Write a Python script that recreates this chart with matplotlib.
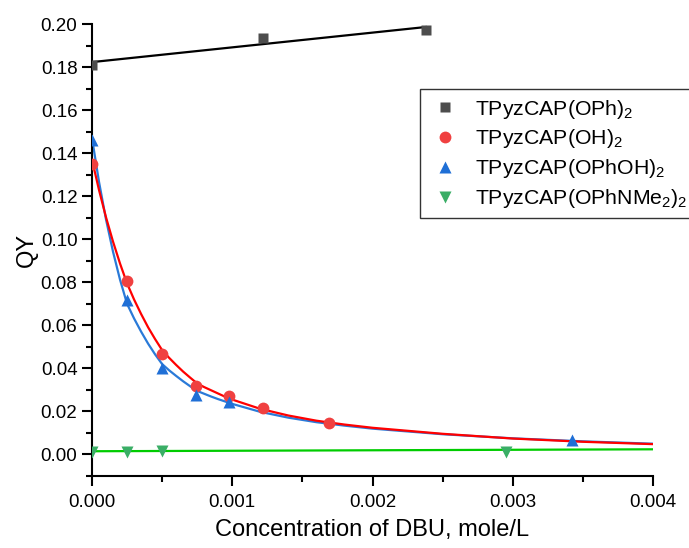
import numpy as np
import matplotlib
matplotlib.use('Agg')
import matplotlib.pyplot as plt
from matplotlib.ticker import MultipleLocator

plt.rcParams['font.family'] = ['Liberation Sans', 'DejaVu Sans']
plt.rcParams['mathtext.default'] = 'regular'

# measured points
x_oph = [0.0, 0.00122, 0.00238]
y_oph = [0.181, 0.1935, 0.197]

x_oh = [0.0, 0.00025, 0.0005, 0.00074, 0.00098, 0.00122, 0.00169]
y_oh = [0.135, 0.0805, 0.0465, 0.0316, 0.027, 0.0214, 0.0144]

x_ophoh = [0.0, 0.00025, 0.0005, 0.00074, 0.00098, 0.00342]
y_ophoh = [0.146, 0.0716, 0.040, 0.0274, 0.0242, 0.0065]

x_nme2 = [0.0, 0.00025, 0.0005, 0.00295]
y_nme2 = [0.0010, 0.0012, 0.0017, 0.0012]

# fit curves
fit_oph_x = [0.0, 0.00238]
fit_oph_y = [0.1823, 0.1986]

fit_x = [0.0, 0.00005, 0.0001, 0.00015, 0.0002, 0.00025, 0.0003, 0.00035, 0.0004,
         0.00045, 0.0005, 0.00055, 0.0006, 0.00065, 0.0007, 0.00075, 0.0008,
         0.00085, 0.0009, 0.00095, 0.001, 0.0012, 0.0014, 0.0016, 0.0018, 0.002,
         0.0025, 0.003, 0.0035, 0.004]
fit_oh_y = [0.137, 0.1229, 0.1102, 0.0989, 0.0887, 0.0795, 0.0720, 0.0653, 0.0591,
            0.0536, 0.0485, 0.0449, 0.0416, 0.0385, 0.0357, 0.0330, 0.0313,
            0.0298, 0.0283, 0.0268, 0.0255, 0.0212, 0.0181, 0.0157, 0.0139, 0.0124,
            0.0096, 0.0074, 0.0059, 0.0048]
fit_ophoh_y = [0.147, 0.1267, 0.1092, 0.0942, 0.0812, 0.0700, 0.0632, 0.0571, 0.0515,
               0.0465, 0.0420, 0.0391, 0.0365, 0.0340, 0.0317, 0.0295, 0.0282,
               0.0269, 0.0257, 0.0246, 0.0235, 0.0198, 0.0171, 0.0150, 0.0134, 0.0120,
               0.0094, 0.0075, 0.0061, 0.0050]

fit_nme2_x = [0.0, 0.004]
fit_nme2_y = [0.0015, 0.0024]

fig = plt.figure(figsize=(6.89, 5.48), dpi=100)
ax = fig.add_axes([0.1335, 0.1314, 0.8143, 0.8248])

ax.plot(fit_oph_x, fit_oph_y, color='black', lw=1.6, zorder=2)
ax.plot(fit_nme2_x, fit_nme2_y, color='#00cc00', lw=1.6, zorder=2)
ax.plot(fit_x, fit_ophoh_y, color='#2a7ad8', lw=1.6, zorder=2)
ax.plot(fit_x, fit_oh_y, color='#ff0000', lw=1.6, zorder=2)

ax.plot(x_oph, y_oph, 's', color='#4d4d4d', ms=7.5, mec='none', label='TPyzCAP(OPh)$_2$', zorder=3)
ax.plot(x_oh, y_oh, 'o', color='#f04040', ms=8.5, mec='none', label='TPyzCAP(OH)$_2$', zorder=3)
ax.plot(x_ophoh, y_ophoh, '^', color='#1f6fd6', ms=9, mec='none', label='TPyzCAP(OPhOH)$_2$', zorder=3)
ax.plot(x_nme2, y_nme2, 'v', color='#3aae66', ms=9, mec='none', label='TPyzCAP(OPhNMe$_2$)$_2$', zorder=3)

ax.set_xlim(0, 0.004)
ax.set_ylim(-0.01, 0.20)
ax.xaxis.set_major_locator(MultipleLocator(0.001))
ax.xaxis.set_minor_locator(MultipleLocator(0.0005))
ax.yaxis.set_major_locator(MultipleLocator(0.02))
ax.yaxis.set_minor_locator(MultipleLocator(0.01))
ax.xaxis.set_major_formatter(plt.FuncFormatter(lambda v, p: f'{v:.3f}'))
ax.yaxis.set_major_formatter(plt.FuncFormatter(lambda v, p: f'{v:.2f}'))

for s in ['top', 'right']:
    ax.spines[s].set_visible(False)
for s in ['left', 'bottom']:
    ax.spines[s].set_linewidth(1.5)
ax.tick_params(which='major', direction='out', length=7, width=1.5, labelsize=13.5)
ax.tick_params(which='minor', direction='out', length=4, width=1.5)
ax.tick_params(axis='x', pad=6)

ax.set_xlabel('Concentration of DBU, mole/L', fontsize=17, labelpad=6)
ax.set_ylabel('QY', fontsize=17, labelpad=2)

leg = ax.legend(loc='upper left', bbox_to_anchor=(0.585, 0.856), fontsize=15.3,
                frameon=True, fancybox=False, edgecolor='black', borderpad=0.4,
                handletextpad=0.67, labelspacing=0.32, handlelength=1.5,
                borderaxespad=0)
leg.get_frame().set_linewidth(1.0)

fig.savefig('out.png', dpi=100)
